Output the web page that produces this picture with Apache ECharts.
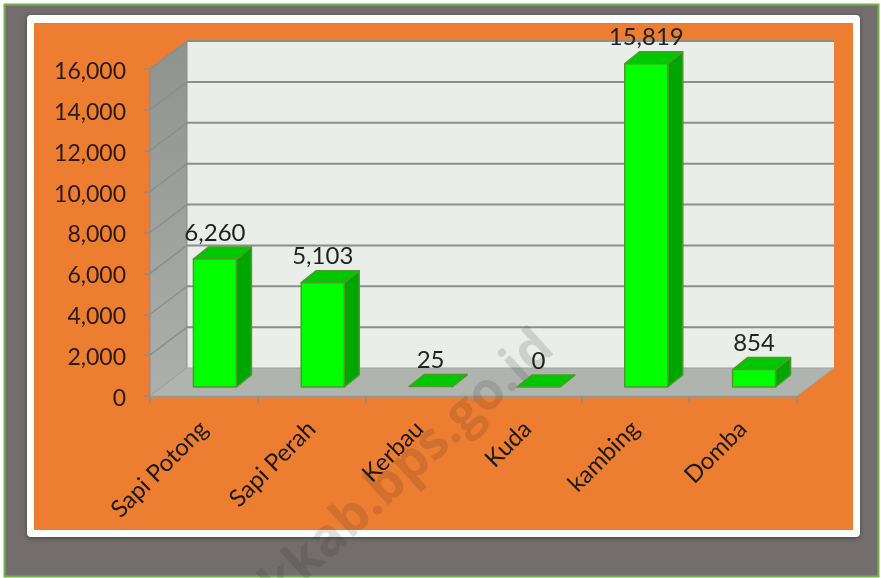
<!DOCTYPE html>
<html><head><meta charset="utf-8">
<style>html,body{margin:0;padding:0;background:#fff}#c{width:881px;height:578px}</style>
<script src="https://cdn.jsdelivr.net/npm/echarts@6/dist/echarts.min.js"></script>
</head><body><div id="c"></div>
<script>
const categories = ['Sapi Potong','Sapi Perah','Kerbau','Kuda','kambing','Domba'];
const values = [6260,5103,25,0,15819,854];
const valueLabels = ['6,260','5,103','25','0','15,819','854'];
const yTicks = [0,2000,4000,6000,8000,10000,12000,14000,16000];
const FONT = 'Lato, sans-serif';
const DX = 37, DY = -28;       // wall depth
const BDX = 15, BDY = -12;     // bar depth
const FX = 11, FY = -9;        // bar front offset from axis front
const LINE = '#8b8e8b';

const chart = echarts.init(document.getElementById('c'), null, {renderer:'canvas'});

function wallsItem(params, api){
  const n = categories.length, top = yTicks[yTicks.length-1];
  const x0 = api.coord([0,0])[0] - api.size([1,0])[0]/2;
  const x1 = x0 + api.size([1,0])[0]*n;
  const y0 = api.coord([0,0])[1];
  const yT = api.coord([0,top])[1];
  const poly = (pts, style) => ({type:'polygon', shape:{points:pts}, style});
  return {type:'group', children:[
    poly([[x0+DX,yT+DY],[x1+DX,yT+DY],[x1+DX,y0+DY],[x0+DX,y0+DY]],{fill:'#e9eee8'}),
    poly([[x0,y0],[x0+DX,y0+DY],[x0+DX,yT+DY],[x0,yT]],{
      fill:new echarts.graphic.LinearGradient(0,0,0,1,[{offset:0,color:'#8f938f'},{offset:1,color:'#acb0ac'}]),
      stroke:LINE,lineWidth:1}),
    poly([[x0,y0],[x1,y0],[x1+DX,y0+DY],[x0+DX,y0+DY]],{fill:'#b0b4ae',stroke:'#a0a39f',lineWidth:1})
  ]};
}
function gridItem(params, api){
  const n = categories.length;
  const w = api.size([1,0])[0];
  const x0 = api.coord([0,0])[0] - w/2;
  const x1 = x0 + w*n;
  const y = api.coord([0,api.value(0)])[1];
  const s = {stroke:LINE,lineWidth:2,fill:null};
  const s2 = {stroke:LINE,lineWidth:1.5,fill:null};
  return {type:'group', children:[
    {type:'polyline', shape:{points:[[x0,y],[x0+DX,y+DY]]}, style:s2},
    {type:'polyline', shape:{points:[[x0+DX,y+DY],[x1+DX,y+DY]]}, style:s}
  ]};
}
function barItem(params, api){
  const i = api.value(0), v = api.value(1);
  const c = api.coord([i,v]), b = api.coord([i,0]);
  const bw = 43;
  const l = c[0]-bw/2+FX, r = l+bw, yt = c[1]+FY, yb = b[1]+FY;
  const st = {stroke:'#4f9a2d',lineWidth:1.5,lineJoin:'round'};
  const kids = [
    {type:'polygon',shape:{points:[[r,yb],[r+BDX,yb+BDY],[r+BDX,yt+BDY],[r,yt]]},style:{fill:'#00a600',...st}},
    {type:'polygon',shape:{points:[[l,yt],[l+BDX,yt+BDY],[r+BDX,yt+BDY],[r,yt]]},style:{fill:'#00c800',...st}}
  ];
  if (yb-yt>1) kids.push({type:'rect',shape:{x:l,y:yt,width:bw,height:yb-yt},style:{fill:'#00ff00',...st}});
  kids.push({type:'text',style:{text:valueLabels[params.dataIndex],x:(l+r)/2,y:yt-14,align:'center',verticalAlign:'bottom',
    font:'24px '+FONT,fill:'#222222'}});
  return {type:'group',children:kids};
}

chart.setOption({
  animation:false,
  backgroundColor:'#ffffff',
  graphic:{elements:[
    {type:'rect',z:-10,silent:true,shape:{x:4.5,y:4.5,width:874,height:572},style:{fill:'#736e6d',stroke:'#74b04c',lineWidth:2}},
    {type:'rect',z:-9,silent:true,shape:{x:27,y:15,width:833,height:522,r:4},style:{fill:'#ffffff',shadowBlur:4,shadowColor:'rgba(0,0,0,0.4)',shadowOffsetY:1}},
    {type:'rect',z:-8,silent:true,shape:{x:34,y:23,width:819,height:507},style:{fill:'#ed7d31'}},
    {type:'text',z:100,silent:true,x:287,y:613,rotation:42.5*Math.PI/180,
      style:{text:'kkab.bps.go.id',font:'bold 52px "Open Sans", sans-serif',fill:'rgba(40,40,40,0.15)',align:'left',verticalAlign:'bottom'}}
  ]},
  grid:{left:150,right:84,top:69,bottom:182,containLabel:false},
  xAxis:{type:'category',data:categories,
    axisLine:{show:true,lineStyle:{color:LINE,width:2}},
    axisTick:{show:true,alignWithLabel:false,length:7,lineStyle:{color:LINE,width:1.5}},
    axisLabel:{rotate:45,interval:0,margin:29,fontFamily:FONT,fontSize:24,color:'#1a1a1a'},
    splitLine:{show:false}},
  yAxis:{type:'value',min:0,max:16000,interval:2000,
    axisLine:{show:true,lineStyle:{color:LINE,width:1.5}},
    axisTick:{show:true,length:6,lineStyle:{color:LINE,width:1.5}},
    axisLabel:{margin:24,verticalAlign:'top',lineHeight:5,fontFamily:FONT,fontSize:23,color:'#2a1a10',formatter:v=>v.toLocaleString('en-US')},
    splitLine:{show:false}},
  series:[
    {type:'custom',z:1,silent:true,renderItem:wallsItem,data:[[0,0]],encode:{x:0,y:1},clip:false},
    {type:'custom',z:2,silent:true,renderItem:gridItem,data:yTicks.slice(1).map(v=>[v]),clip:false,encode:{y:0}},
    {type:'custom',z:3,silent:true,renderItem:barItem,data:values.map((v,i)=>[i,v]),encode:{x:0,y:1},clip:false}
  ]
});
</script></body></html>
